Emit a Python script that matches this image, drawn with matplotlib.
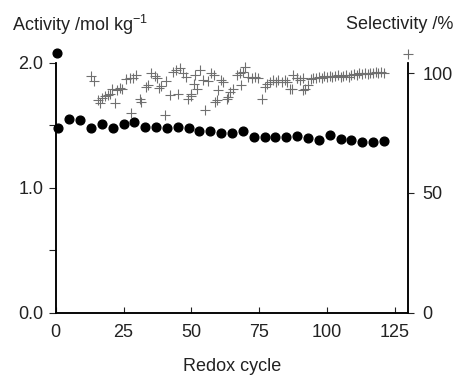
import matplotlib
matplotlib.use("Agg")
import matplotlib.pyplot as plt
import numpy as np

plt.rcParams['font.family'] = ['Liberation Sans', 'DejaVu Sans']
plt.rcParams['mathtext.default'] = 'regular'

# Activity (mol kg-1) vs redox cycle
act_cycle = [1, 5, 9, 13, 17, 21, 25, 29, 33, 37, 41, 45, 49, 53, 57, 61,
             65, 69, 73, 77, 81, 85, 89, 93, 97, 101, 105, 109, 113, 117, 121]
act_value = [1.475, 1.547, 1.542, 1.475, 1.507, 1.48, 1.507, 1.523, 1.488,
             1.488, 1.475, 1.488, 1.475, 1.454, 1.454, 1.435, 1.435, 1.454,
             1.408, 1.408, 1.408, 1.408, 1.414, 1.395, 1.382, 1.422, 1.39,
             1.382, 1.368, 1.368, 1.374]

# Selectivity (%) vs redox cycle
sel_cycle = [13, 14, 15.6, 16.2, 17.2, 18.1, 19.1, 19.9, 20.9, 21.8, 22.6, 23.6,
             24.5, 26.1, 27.3, 28.5, 29.5, 27.9, 31, 31.6, 33.2, 34.1, 35.3,
             36.5, 37.4, 38.1, 39, 40.6, 40.2, 42.1, 43.3, 44.5, 45.1, 46, 47,
             48, 48.8, 49.8, 50.9, 52.1, 51.3, 53.1, 50, 54.4, 56.2, 57.4, 58.3,
             59.9, 61.1, 61.7, 55, 59.3, 58.7, 63, 63.6, 64.2, 65.2, 66.7, 67.9,
             69.7, 69.1, 68.5, 71, 72.2, 73.4, 74.6, 75.9, 77.1, 78, 79, 80,
             81.2, 82, 83.3, 84.5, 85.1, 86.3, 87.6, 88.8, 87,
             89, 90, 91, 92, 93, 94, 95, 96, 97, 98, 99, 100, 101, 102, 103,
             104, 105, 106, 107, 108, 109, 110, 111, 112, 113, 114, 115, 116,
             117, 118, 119, 120, 121, 91.3]
sel_value = [98.9, 96.7, 88.7, 87.4, 89.7, 90.5, 91.1, 91.5, 93.6, 87.4, 92.9,
             93.9, 93.6, 97.5, 98.1, 97.8, 99.4, 83.2, 89.2, 88.1, 94.3, 95.0,
             99.9, 98.9, 97.8, 93.9, 94.7, 96.7, 82.5, 90.8, 100.5, 101.3, 91.5,
             102.0, 99.9, 98.5, 89.4, 90.5, 95.7, 93.6, 99.2, 101.3, 91.5, 97.1,
             96.7, 99.9, 99.2, 92.9, 97.1, 96.4, 84.5, 88.7, 88.0, 89.4, 90.1,
             92.2, 93.6, 99.2, 99.9, 102.6, 100.5, 95.0, 98.5, 97.8, 98.5, 97.8,
             89.4, 94.3, 95.7, 96.4, 97.1, 96.4, 97.1, 96.4, 97.1, 96.4, 93.6,
             99.2, 97.8, 93.6,
             97.8, 97.1, 97.8, 93.6, 95.0, 97.5, 98.2, 97.8, 98.5, 98.2, 98.9,
             98.5, 98.9, 98.5, 98.9, 99.2, 98.5, 98.9, 99.2, 98.5, 99.2, 99.6,
             99.2, 99.9, 99.6, 100.2, 99.6, 100.2, 99.9, 100.5, 99.9, 100.5,
             100.2, 92.9]

# Key markers drawn next to the axis titles
key_act = (0.3, 2.08)
key_sel = (130, 108)

fig = plt.figure(figsize=(4.55, 3.77), dpi=100)
ax = fig.add_axes([0.1224, 0.1706, 0.775, 0.6631])
ax2 = ax.twinx()

ax.plot(act_cycle, act_value, 'o', color='black', markersize=6.3, zorder=3,
        clip_on=False)
ax.plot([key_act[0]], [key_act[1]], 'o', color='black', markersize=6.3,
        clip_on=False)
ax2.plot(sel_cycle, sel_value, '+', color='#707070', markersize=6.8,
         markeredgewidth=0.8, clip_on=False)
ax2.plot([key_sel[0]], [key_sel[1]], '+', color='#707070', markersize=6.8,
         markeredgewidth=0.8, clip_on=False)

ax.set_xlim(0, 130)
ax.set_ylim(0, 2.0)
ax2.set_ylim(0, 104.4)

for a in (ax, ax2):
    a.spines['top'].set_visible(False)
    for s in ('left', 'right', 'bottom'):
        a.spines[s].set_linewidth(1.1)

ax.set_xticks([0, 25, 50, 75, 100, 125])
ax.set_yticks([0, 0.5, 1.0, 1.5, 2.0])
ax.set_yticklabels(['0.0', '', '1.0', '', '2.0'])
ax2.set_yticks([0, 50, 100])

ax.tick_params(axis='x', direction='in', length=4, width=0.8, labelsize=13,
               pad=8, colors='#222222', labelcolor='#222222')
ax.tick_params(axis='y', direction='out', length=5, width=0.8, labelsize=13,
               pad=4, colors='#222222', labelcolor='#222222')
ax2.tick_params(axis='y', direction='out', length=4, width=0.8, labelsize=13,
                pad=6, colors='#222222', labelcolor='#222222')

fig.text(0.027, 0.934, 'Activity /mol kg$^{-1}$', fontsize=13, ha='left',
         va='center', color='#222222')
fig.text(0.997, 0.934, 'Selectivity /%', fontsize=13, ha='right', va='center',
         color='#222222')
fig.text(0.51, 0.028, 'Redox cycle', fontsize=13, ha='center', va='center',
         color='#222222')

fig.savefig('out.png', dpi=100)
